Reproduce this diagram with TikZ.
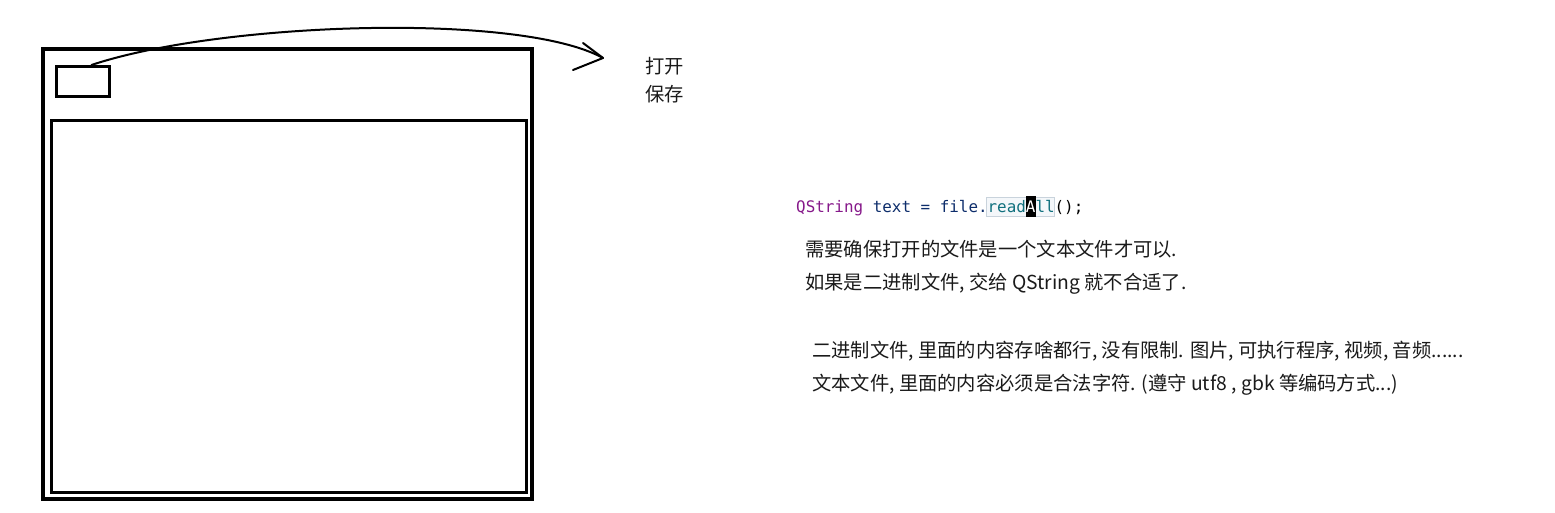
\documentclass[tikz,border=0pt]{standalone}
\usepackage{fontspec}
\setmainfont{Liberation Sans}
\newfontfamily\cjk{Noto Sans CJK SC}
\newfontfamily\codefont{DejaVu Sans Mono}
\definecolor{qpurple}{HTML}{86198A}
\definecolor{qnavy}{HTML}{0D2D6B}
\definecolor{qteal}{HTML}{10707E}
\definecolor{ink}{HTML}{1A1A1A}
\definecolor{hlborder}{HTML}{C9D3DC}
\definecolor{hlfill}{HTML}{F4F7FA}
\tikzset{
  frame/.style={draw=black, line width=3.4pt, inner sep=0pt},
  note/.style={font=\cjk\fontsize{19.3}{23}\selectfont, text=ink, anchor=base west, inner sep=0pt},
  codetext/.style={font=\codefont\fontsize{15.9}{19}\selectfont, anchor=base west, inner sep=0pt},
  pen/.style={line width=2pt, line cap=round, line join=round}
}
\begin{document}
\begin{tikzpicture}[x=1pt,y=-1pt]
\useasboundingbox (0,0) rectangle (1555,512);
% window
\draw[frame] (43,49) rectangle (532,499);
\node[frame, minimum width=475pt, minimum height=372pt, anchor=north west] (editor) at (50,119) {};
\node[draw=black, line width=3pt, minimum width=53pt, minimum height=30pt, anchor=north west, inner sep=0pt] (btn) at (55,65) {};
% menu items
\node[note] (open) at (645,73.5) {打开};
\node[note] (save) at (645,101.5) {保存};
% curved arrow
\coordinate (tip) at (603,58);
\coordinate (barbA) at (583,43);
\coordinate (barbB) at (573,70);
\draw[pen] ([xshift=8.5pt]btn.north) .. controls (220,22) and (520,12) .. (tip);
\draw[pen] (barbA) -- (tip) -- (barbB);
% code line highlight
\filldraw[draw=hlborder, fill=hlfill, line width=1pt] (986,197) rectangle (1054,216);
\fill[black] (1026,196) rectangle (1036,217);
\node[codetext] (code) at (796,212) {\textcolor{qpurple}{QString} \textcolor{qnavy}{text = file.}\textcolor{qteal}{read}\textcolor{white}{A}\textcolor{qteal}{ll}\textcolor{black}{();}};
% notes
\node[note] (l1) at (805,256.5) {需要确保打开的文件是一个文本文件才可以.};
\node[note] (l2) at (805,289.5) {如果是二进制文件, 交给 QString 就不合适了.};
\node[note] (l3) at (812,357.5) {二进制文件, 里面的内容存啥都行, 没有限制. 图片, 可执行程序, 视频, 音频......};
\node[note] (l4) at (812,390.5) {文本文件, 里面的内容必须是合法字符. (遵守 utf8 , gbk 等编码方式...)};
\end{tikzpicture}
\end{document}
